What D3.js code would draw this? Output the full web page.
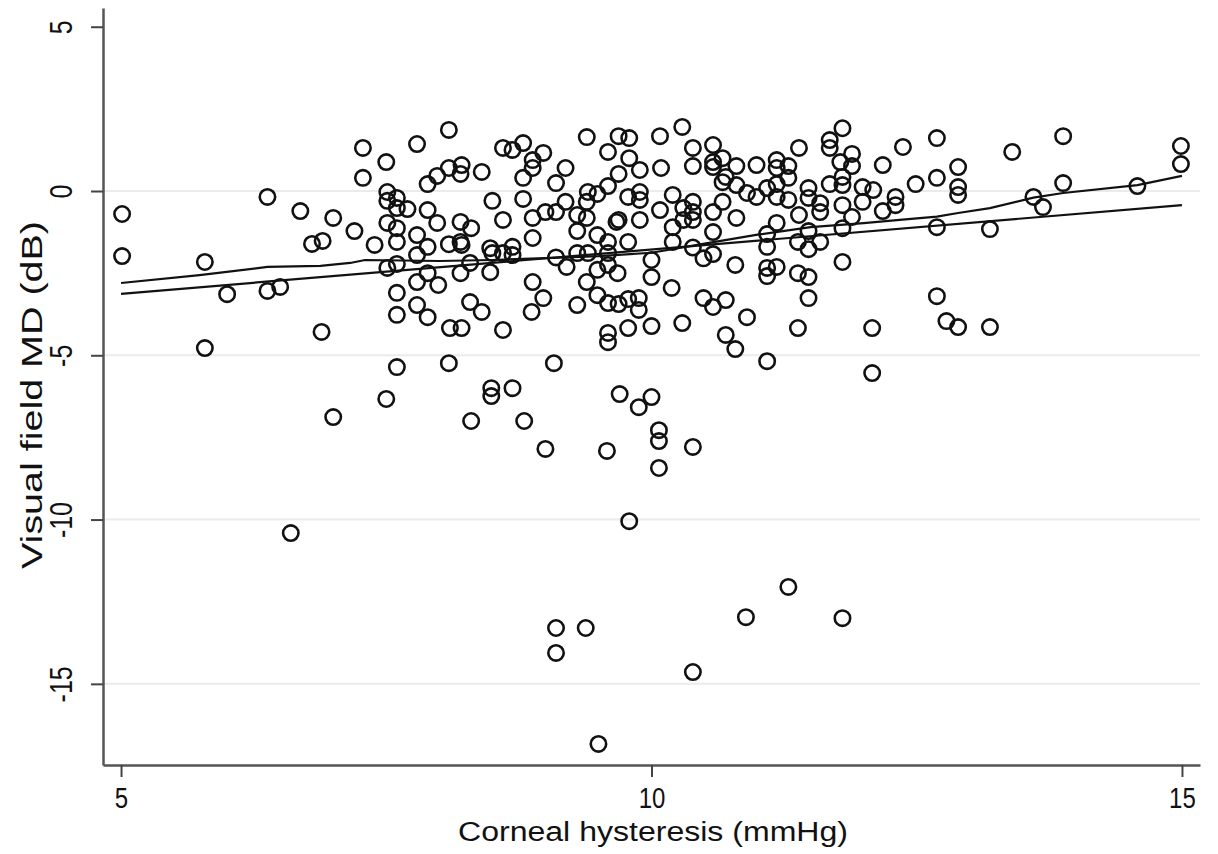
<!DOCTYPE html>
<html><head><meta charset="utf-8">
<script src="https://cdn.jsdelivr.net/npm/d3@7"></script>
<style>body{margin:0;background:#fff}svg{display:block}</style>
</head><body>
<script>
// Data: [corneal hysteresis (mmHg), visual field MD (dB)]
const eyes = [
[5.01,-0.70],[5.01,-1.98],[5.79,-2.16],[5.79,-4.78],[6.0,-3.14],[6.38,-0.18],[6.38,-3.04],[6.5,-2.92],[6.69,-0.61],[6.8,-1.61],[6.9,-1.52],[6.89,-4.29],[7.0,-0.82],[7.0,-6.88],[6.6,-10.41],[7.2,-1.22],[7.28,1.31],[7.28,0.40],
[8.09,1.86],[7.79,1.43],[7.50,0.88],[7.89,0.21],[7.98,0.46],[8.09,0.70],[8.21,0.79],[8.20,0.52],[8.40,0.58],[8.60,1.31],[8.69,1.25],[8.79,1.46],[8.88,0.94],[8.98,1.16],[8.88,0.70],[8.79,0.40],[8.79,-0.24],[8.50,-0.30],[7.51,-0.03],[7.51,-0.30],[7.60,-0.21],[7.60,-0.52],[7.70,-0.55],[7.89,-0.58],[7.98,-0.97],[7.51,-0.97],[7.60,-1.13],[7.79,-1.34],[8.20,-0.94],[8.30,-1.13],[8.60,-0.88],[8.88,-0.82],[8.88,-1.43],[7.39,-1.64],[7.60,-1.55],[8.20,-1.55],[8.09,-1.62],[8.48,-1.74],[8.69,-1.70],[7.89,-1.70],
[7.79,-1.95],[8.21,-1.64],[7.51,-2.34],[7.60,-2.22],[7.89,-2.50],[8.29,-2.19],[8.50,-1.89],[8.60,-1.89],[8.69,-1.95],[8.20,-2.50],[8.48,-2.47],[7.79,-2.77],[7.99,-2.86],[7.60,-3.10],[8.88,-2.77],[8.98,-3.26],[8.87,-3.68],[7.79,-3.47],[7.89,-3.84],[7.60,-3.77],[8.29,-3.38],[8.40,-3.68],[8.10,-4.17],[8.21,-4.17],[8.60,-4.23],[7.60,-5.36],[8.09,-5.24],[9.08,-5.24],
[7.5,-6.33],[8.30,-7.0],[8.49,-6.0],[8.49,-6.24],[8.69,-6.0],[8.80,-7.0],[9.0,-7.85],[9.58,-7.91],[9.70,-6.18],[9.88,-6.58],[10.0,-6.27],[10.07,-7.28],[10.07,-7.61],[10.07,-8.43],[9.79,-10.05],[9.1,-13.30],[9.38,-13.30],[9.1,-14.06],[9.5,-16.83],
[10.39,-7.79],[11.29,-12.05],[10.89,-12.97],[11.8,-13.0],[10.39,-14.64],[12.08,-5.54],
[9.39,1.64],[9.69,1.67],[9.79,1.61],[10.08,1.67],[10.29,1.95],[9.59,1.19],[9.79,1.0],[9.19,0.70],[9.89,0.64],[10.09,0.70],[9.10,0.24],[9.69,0.52],[9.59,0.15],[9.40,-0.03],[9.49,-0.09],[9.78,-0.18],[9.89,-0.03],[9.89,-0.27],[9.19,-0.33],[9.39,-0.33],[9.0,-0.64],[9.10,-0.64],[9.30,-0.73],[9.39,-0.82],[9.69,-0.88],[9.89,-0.88],[10.08,-0.58],[10.20,-0.12],[10.30,-0.52],[10.39,-0.33],[10.39,-0.64],[10.30,-0.88],[10.39,-0.88],[10.20,-1.10],[10.58,-0.64],[10.67,-0.33],[10.58,-1.25],[10.39,1.31],[10.39,0.76],[10.58,1.40],[10.58,0.88],[10.67,1.0],[10.67,0.27],[10.58,0.73],[9.30,-1.22],[9.49,-1.34],[9.59,-1.55],[9.78,-1.55],[9.67,-0.94],[10.20,-1.55],
[11.8,1.91],[11.68,1.55],[11.68,1.31],[11.39,1.31],[12.37,1.34],[10.80,0.76],[10.99,0.79],[11.18,0.94],[11.18,0.70],[11.29,0.76],[11.89,1.13],[11.89,0.76],[11.78,0.88],[12.18,0.79],[10.70,0.43],[10.80,0.18],[11.09,0.09],[11.18,0.21],[11.29,0.40],[11.48,0.09],[11.68,0.21],[11.80,0.43],[11.80,0.18],[11.99,0.12],[12.09,0.03],[12.30,-0.18],[12.30,-0.43],[10.90,-0.06],[10.99,-0.18],[11.18,-0.18],[11.29,-0.27],[11.48,-0.21],[11.59,-0.37],[11.80,-0.43],[11.99,-0.33],[12.18,-0.61],[11.39,-0.73],[11.59,-0.64],[11.89,-0.79],[11.80,-1.13],[11.18,-0.97],[10.80,-0.82],[11.09,-1.31],[11.48,-1.22],[11.59,-1.55],
[11.09,-1.70],[11.38,-1.55],[11.48,-1.77],[10.79,-2.25],[11.09,-2.34],[11.18,-2.31],[11.09,-2.59],[11.38,-2.50],[11.48,-2.62],[11.80,-2.16],[11.48,-3.26],[10.70,-3.32],[10.90,-3.84],[10.70,-4.38],[10.79,-4.81],[11.38,-4.17],[12.08,-4.17],[11.09,-5.18],
[9.30,-1.89],[9.40,-1.89],[9.59,-1.89],[9.20,-2.31],[9.59,-2.25],[9.68,-2.50],[9.49,-2.40],[10.0,-2.10],[10.0,-2.62],[9.39,-2.77],[9.30,-3.47],[9.49,-3.17],[9.59,-3.41],[9.69,-3.44],[9.78,-3.29],[9.88,-3.26],[9.88,-3.62],[10.19,-2.95],[10.49,-3.26],[10.58,-3.53],[9.59,-4.32],[9.59,-4.60],[9.78,-4.17],[10.0,-4.11],[10.29,-4.02],
[10.39,-1.72],[10.58,-1.92],[9.10,-2.02],[10.49,-2.05],
[12.69,1.61],[12.49,0.21],[12.69,0.40],[12.89,0.73],[12.89,0.12],[12.89,-0.12],[13.40,1.19],[13.88,1.67],[13.60,-0.18],[13.69,-0.49],[13.88,0.24],[14.58,0.15],[14.99,1.37],[14.99,0.82],[12.69,-1.10],[13.19,-1.16],[12.69,-3.20],[12.78,-3.96],[12.89,-4.14],[13.19,-4.14]
];
// Fitted lines
const linearFit = [[5,-3.13],[15,-0.43]];
const lowessFit = [[5,-2.80],[5.74,-2.56],[6.38,-2.31],[6.88,-2.28],[7.16,-2.19],[7.3,-2.1],[8,-2.13],[8.5,-2.1],[9,-2.04],[9.5,-1.98],[10,-1.88],[10.5,-1.6],[11,-1.33],[11.5,-1.1],[12,-0.98],[12.34,-0.88],[12.69,-0.78],[12.89,-0.67],[13.19,-0.52],[13.6,-0.2],[13.88,-0.06],[14.58,0.18],[15,0.46]];
const xTicks = [5,10,15];
const yTicks = [5,0,-5,-10,-15];
const yGrid = [0,-5,-10,-15];
const xTitle = "Corneal hysteresis (mmHg)";
const yTitle = "Visual field MD (dB)";

const W = 1218, H = 854;
const L = 103, R = 1200, T = 8, B = 765;
const x = d3.scaleLinear().domain([4.83, 15.17]).range([L, R]);
const y = d3.scaleLinear().domain([-17.47, 5.57]).range([B, T]);
const FONT = "'Liberation Sans Narrow','Arial Narrow','Liberation Sans',Arial,sans-serif";

const svg = d3.select("body").append("svg").attr("width", W).attr("height", H);

// gridlines
svg.append("g").selectAll("line").data(yGrid).join("line")
  .attr("x1", L).attr("x2", R).attr("y1", d => y(d)).attr("y2", d => y(d))
  .attr("stroke", "#ebebeb").attr("stroke-width", 2);

// points
svg.append("g").selectAll("circle").data(eyes).join("circle")
  .attr("cx", d => x(d[0])).attr("cy", d => y(d[1])).attr("r", 7.7)
  .attr("fill", "none").attr("stroke", "#111").attr("stroke-width", 2.6);

// fit lines
const line = d3.line().x(d => x(d[0])).y(d => y(d[1]));
svg.append("path").datum(linearFit).attr("d", line).attr("fill", "none").attr("stroke", "#111").attr("stroke-width", 2.2);
svg.append("path").datum(lowessFit).attr("d", line).attr("fill", "none").attr("stroke", "#111").attr("stroke-width", 2.2);

// axes
const xAxis = d3.axisBottom(x).tickValues(xTicks).tickSize(12).tickPadding(10).tickSizeOuter(0);
const gx = svg.append("g").attr("transform", `translate(0,${B})`).call(xAxis);
gx.select(".domain").attr("stroke", "#555").attr("stroke-width", 2.5);
gx.selectAll(".tick line").attr("stroke", "#444").attr("stroke-width", 2);
gx.selectAll(".tick text").attr("font-family", FONT).attr("font-size", 30).attr("fill", "#111")
  .attr("transform", "scale(0.8,1)");

const yAxis = d3.axisLeft(y).tickValues(yTicks).tickSize(12).tickSizeOuter(0).tickFormat(d => d < 0 ? "-" + Math.abs(d) : d);
const gy = svg.append("g").attr("transform", `translate(${L},0)`).call(yAxis);
gy.select(".domain").attr("stroke", "#555").attr("stroke-width", 2.5);
gy.selectAll(".tick line").attr("stroke", "#444").attr("stroke-width", 2);
gy.selectAll(".tick text")
  .attr("font-family", FONT).attr("font-size", 32).attr("fill", "#111")
  .attr("x", null).attr("dy", null)
  .attr("text-anchor", "middle")
  .attr("transform", "translate(-31,0) rotate(-90) scale(0.78,1)")
  .attr("y", 0).attr("dy", "0");

// titles
svg.append("text").attr("x", 653).attr("y", 841).attr("text-anchor", "middle")
  .attr("font-family", FONT).attr("font-size", 27).attr("fill", "#111")
  .attr("textLength", 390).attr("lengthAdjust", "spacingAndGlyphs").text(xTitle);
svg.append("text").attr("transform", "translate(42,395) rotate(-90)").attr("text-anchor", "middle")
  .attr("font-family", FONT).attr("font-size", 29).attr("fill", "#111")
  .attr("textLength", 348).attr("lengthAdjust", "spacingAndGlyphs").text(yTitle);
</script>
</body></html>
